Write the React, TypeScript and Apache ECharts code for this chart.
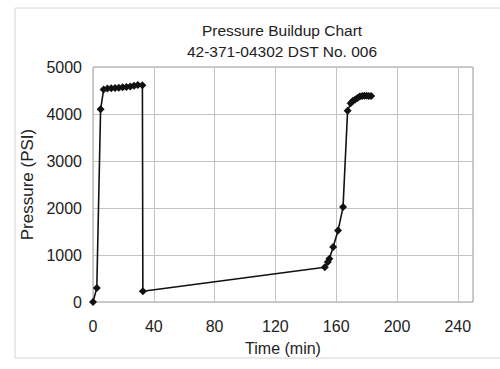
import React, { useEffect, useRef } from "react";
import * as echarts from "echarts";

const titleLines = ["Pressure Buildup Chart", "42-371-04302 DST No. 006"];
const xAxisName = "Time (min)";
const yAxisName = "Pressure (PSI)";

const timeMin = [
  0, 2.5, 5, 7, 9.5, 12, 14.5, 17, 19.5, 22, 24.5, 27, 29.5, 32.5, 32.8,
  152.5, 154.5, 155.5, 158, 161.2, 164.5, 167.5, 169.5, 171, 172.5, 174,
  175.5, 177, 178.5, 180, 181.5, 183,
];
const pressurePsi = [
  0, 300, 4100, 4520, 4540, 4550, 4555, 4560, 4570, 4575, 4585, 4600, 4615,
  4610, 230, 740, 850, 920, 1170, 1520, 2020, 4070, 4230, 4280, 4310, 4340,
  4370, 4385, 4390, 4390, 4385, 4385,
];

export default function App() {
  const ref = useRef<HTMLDivElement>(null);
  useEffect(() => {
    if (!ref.current) return;
    const chart = echarts.init(ref.current, null, { renderer: "svg" });
    const font = "'Liberation Sans', Arial, sans-serif";
    const data = timeMin.map((t, i) => [t, pressurePsi[i]]);
    chart.setOption({
      animation: false,
      backgroundColor: "#ffffff",
      textStyle: { fontFamily: font },
      graphic: [
        {
          type: "rect",
          shape: { x: 15, y: 8, width: 500, height: 350 },
          style: { fill: "none", stroke: "#d4d4d4", lineWidth: 1 },
          z: -1,
        },
        {
          type: "text",
          x: 282,
          y: 30,
          style: {
            text: titleLines[0],
            font: "15.5px " + font,
            fill: "#222",
            textAlign: "center",
            textVerticalAlign: "middle",
          },
        },
        {
          type: "text",
          x: 282,
          y: 51,
          style: {
            text: titleLines[1],
            font: "15.5px " + font,
            fill: "#222",
            textAlign: "center",
            textVerticalAlign: "middle",
          },
        },
      ],
      grid: {
        left: 93,
        right: 27,
        top: 67,
        bottom: 67,
        show: true,
        borderColor: "#9a9a9a",
        borderWidth: 1,
        backgroundColor: "transparent",
      },
      xAxis: {
        type: "value",
        min: 0,
        max: 250,
        interval: 40,
        name: xAxisName,
        nameLocation: "middle",
        nameGap: 38,
        nameTextStyle: { fontSize: 16, color: "#222", fontFamily: font },
        axisLine: { show: false },
        axisTick: { show: false },
        axisLabel: {
          fontSize: 16,
          color: "#222",
          margin: 16,
          showMaxLabel: false,
          fontFamily: font,
          formatter: (v: number) => String(v),
        },
        splitLine: { show: true, lineStyle: { color: "#c4c4c4", width: 1 } },
      },
      yAxis: {
        type: "value",
        min: 0,
        max: 5000,
        interval: 1000,
        name: yAxisName,
        nameLocation: "middle",
        nameRotate: 90,
        nameGap: 53,
        nameTextStyle: { fontSize: 17, color: "#222", fontFamily: font },
        axisLine: { show: false },
        axisTick: { show: false },
        axisLabel: {
          fontSize: 16,
          color: "#222",
          margin: 11,
          fontFamily: font,
          formatter: (v: number) => String(v),
        },
        splitLine: { show: true, lineStyle: { color: "#c4c4c4", width: 1 } },
      },
      series: [
        {
          type: "line",
          data,
          symbol: "diamond",
          symbolSize: 8,
          showAllSymbol: true,
          itemStyle: { color: "#111" },
          lineStyle: { color: "#111", width: 1.6 },
        },
      ],
    });
    return () => chart.dispose();
  }, []);
  return (
    <div
      ref={ref}
      style={{ position: "fixed", left: 0, top: 0, width: 500, height: 369 }}
    />
  );
}
